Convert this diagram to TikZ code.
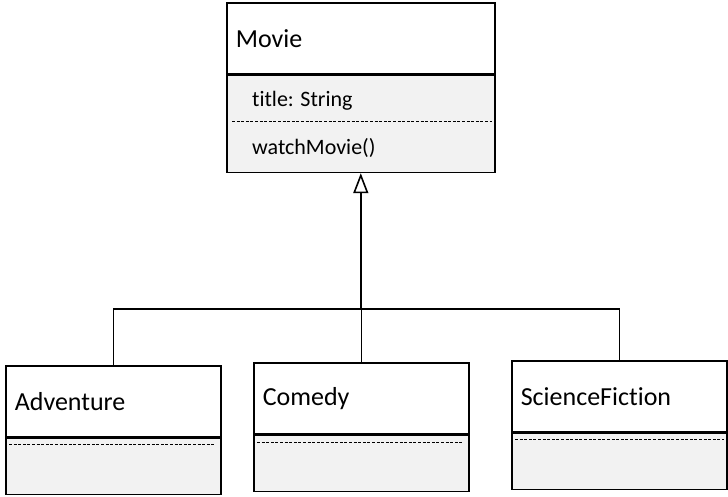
\documentclass[tikz,border=0pt]{standalone}
\usepackage{fontspec}
\setmainfont{Carlito}[Ligatures={NoCommon}]
\usepackage{xcolor}
\definecolor{umlgray}{HTML}{F2F2F2}
\usetikzlibrary{arrows.meta,positioning}

\begin{document}
\begin{tikzpicture}[
  x=1pt, y=-1pt,
  head/.style={
    draw=black,
    line width=1.6pt,
    fill=white,
    minimum width=215pt,
    minimum height=71pt,
    inner xsep=9pt,
    inner ysep=0pt,
    text width=197pt,
    align=left,
    font=\fontsize{26}{30}\selectfont,
  },
  body/.style={
    draw=black,
    line width=1.6pt,
    fill=umlgray,
    minimum width=215pt,
    minimum height=56pt,
    inner sep=0pt,
  },
  member/.style={
    font=\fontsize{22}{26}\selectfont,
    inner sep=0pt,
    anchor=west,
  },
  sep/.style={
    line width=1pt,
    dash pattern=on 3pt off 1.6pt,
  },
  link/.style={
    line width=1.6pt,
    draw=black,
  },
  inherit/.style={
    -{Triangle[open, length=20pt, width=15pt, fill=white]},
    line width=1.6pt,
    draw=black,
  },
]

\useasboundingbox (0,0) rectangle (728,497);

% =============================================================================
% Base class
% =============================================================================
\node[head, minimum width=268pt, text width=250pt, anchor=north west]
  (movie) at (226,2) {Movie};
\node[body, minimum width=268pt, minimum height=97pt, below=0pt of movie]
  (movieBody) {};

\node[member] (movieAttr)
  at ([xshift=26pt, yshift=-26pt]movieBody.north west) {title: String};
\node[member] (movieOp)
  at ([xshift=26pt, yshift=-73pt]movieBody.north west) {watchMovie()};
\draw[sep] ([xshift=6pt, yshift=-47pt]movieBody.north west)
  -- ([xshift=-4pt, yshift=-47pt]movieBody.north east);

% =============================================================================
% Subclasses
% =============================================================================
\node[head, anchor=north west] (adventure) at (5,365) {Adventure};
\node[body, below=0pt of adventure] (adventureBody) {};
\draw[sep] ([xshift=4pt, yshift=-7pt]adventureBody.north west)
  -- ([xshift=-6pt, yshift=-7pt]adventureBody.north east);

\node[head, anchor=north west] (comedy) at (253,362) {Comedy};
\node[body, below=0pt of comedy] (comedyBody) {};
\draw[sep] ([xshift=4pt, yshift=-8pt]comedyBody.north west)
  -- ([xshift=-6pt, yshift=-8pt]comedyBody.north east);

\node[head, anchor=north west] (scifi) at (511,360) {ScienceFiction};
\node[body, below=0pt of scifi] (scifiBody) {};
\draw[sep] ([xshift=4pt, yshift=-7pt]scifiBody.north west)
  -- ([xshift=-4pt, yshift=-7pt]scifiBody.north east);

% =============================================================================
% Generalization tree
% =============================================================================
\coordinate (join) at (movieBody.south |- 0,309);

\draw[inherit] (join) -- (movieBody.south);
\draw[link] (adventure.north) |- (join);
\draw[link] (comedy.north) |- (join);
\draw[link] (scifi.north) |- (join);

\end{tikzpicture}
\end{document}
